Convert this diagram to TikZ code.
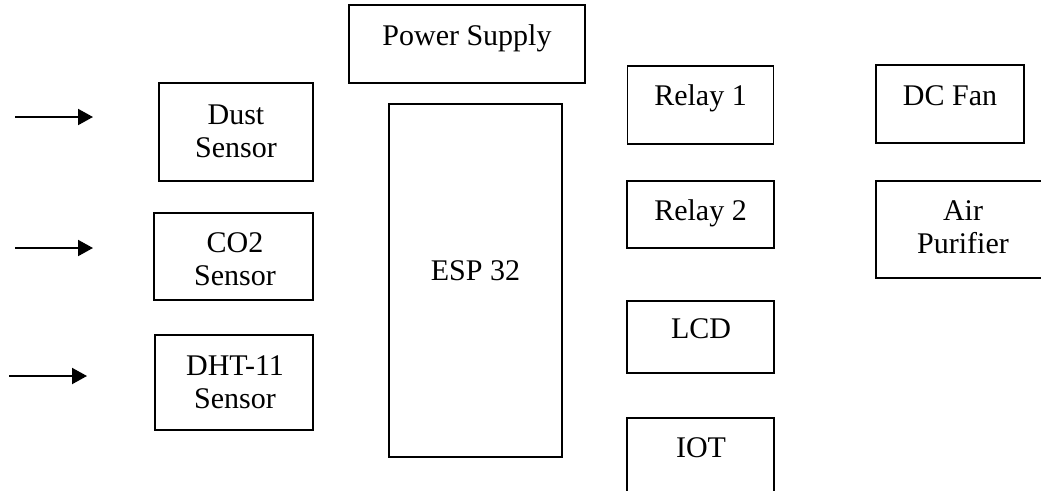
\documentclass[tikz,border=0pt]{standalone}
\usepackage{fontspec}
\setmainfont{Liberation Serif}
\usetikzlibrary{arrows.meta}
\begin{document}
\begin{tikzpicture}[x=0.75pt,y=-0.75pt,
  blockbox/.style={draw=black,line width=1.4pt,inner sep=0pt},
  lbl/.style={inner sep=0pt,anchor=base,align=center,font=\fontsize{22.5}{24.75}\selectfont},
  inarrow/.style={line width=1.5pt,-{Triangle[length=11.25pt,width=12pt]}}]
\useasboundingbox (0,0) rectangle (1041,490);
\clip (0,0) rectangle (1041,490);
% boxes
\node[blockbox,minimum width=236*0.75pt,minimum height=78*0.75pt] (ps) at (467,44) {};
\node[blockbox,minimum width=154*0.75pt,minimum height=98*0.75pt] (dust) at (236,132) {};
\node[blockbox,minimum width=159*0.75pt,minimum height=87*0.75pt] (co2) at (233.5,256.5) {};
\node[blockbox,minimum width=158*0.75pt,minimum height=95*0.75pt] (dht) at (234,382.5) {};
\node[blockbox,minimum width=173*0.75pt,minimum height=353*0.75pt] (esp) at (475.5,280.5) {};
\node[blockbox,minimum width=146*0.75pt,minimum height=78*0.75pt] (r1) at (700.5,105) {};
\node[blockbox,minimum width=147*0.75pt,minimum height=67*0.75pt] (r2) at (700.5,214.5) {};
\node[blockbox,minimum width=147*0.75pt,minimum height=72*0.75pt] (lcd) at (700.5,337) {};
\node[blockbox,minimum width=147*0.75pt,minimum height=120*0.75pt] (iot) at (700.5,478) {};
\node[blockbox,minimum width=148*0.75pt,minimum height=78*0.75pt] (fan) at (950,104) {};
\node[blockbox,minimum width=180*0.75pt,minimum height=97*0.75pt] (air) at (966,229.5) {};
% labels
\node[lbl] (tps) at (467,45) {Power Supply};
\node[lbl] (tdust) at (236,157) {Dust\\Sensor};
\node[lbl] (tco2) at (235,285) {CO2\\Sensor};
\node[lbl] (tdht) at (235,408) {DHT-11\\Sensor};
\node[lbl] (tesp) at (475.5,280) {ESP 32};
\node[lbl] (tr1) at (700.5,105) {Relay 1};
\node[lbl] (tr2) at (700.5,220) {Relay 2};
\node[lbl] (tlcd) at (701,338) {LCD};
\node[lbl] (tiot) at (701,457) {IOT};
\node[lbl] (tfan) at (950,105) {DC Fan};
\node[lbl] (tair) at (963,253) {Air\\Purifier};
% input arrows
\coordinate (a1s) at (15,117); \coordinate (a1e) at (93,117);
\coordinate (a2s) at (15,248); \coordinate (a2e) at (93,248);
\coordinate (a3s) at (9,376);  \coordinate (a3e) at (87,376);
\draw[inarrow] (a1s) -- (a1e);
\draw[inarrow] (a2s) -- (a2e);
\draw[inarrow] (a3s) -- (a3e);
\end{tikzpicture}
\end{document}
